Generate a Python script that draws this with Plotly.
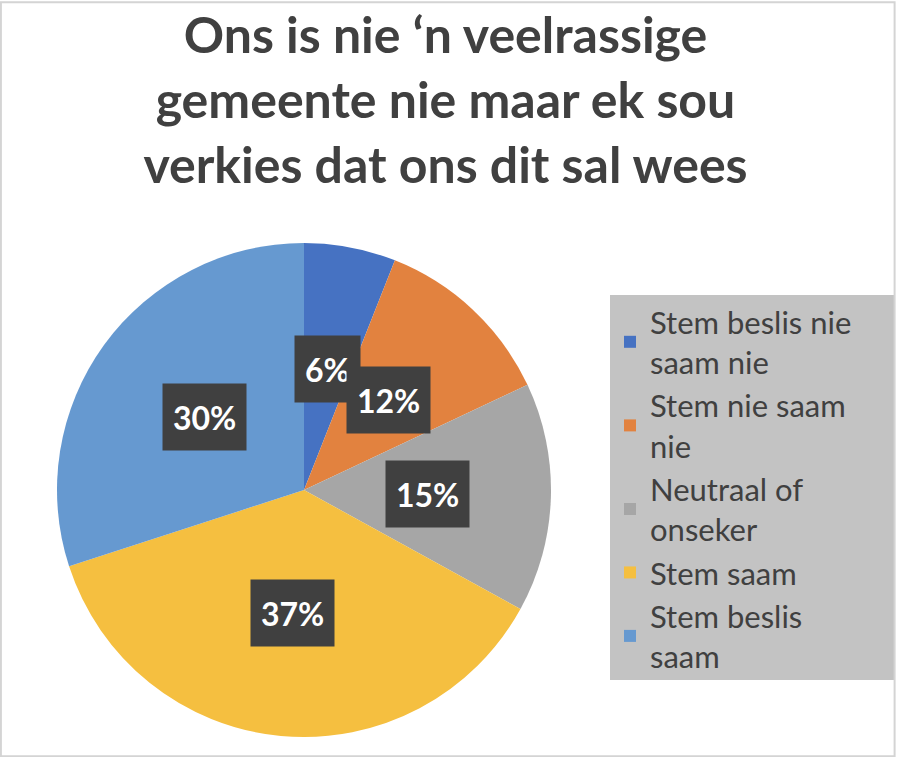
import math
import plotly.graph_objects as go

# data
labels = ["Stem beslis nie<br>saam nie", "Stem nie saam<br>nie", "Neutraal of<br>onseker",
          "Stem saam", "Stem beslis<br>saam"]
values = [6, 12, 15, 37, 30]
colors = ["#4672C2", "#E2823F", "#A6A6A6", "#F5BF40", "#6699D0"]

W, H = 900, 757
# pie placement in pixels (center and radius)
cx, cy, r = 304, 490, 247

fig = go.Figure(go.Pie(
    labels=labels,
    values=values,
    sort=False,
    direction="clockwise",
    rotation=0,
    marker=dict(colors=colors, line=dict(width=0)),
    textinfo="none",
    hoverinfo="label+percent",
    domain=dict(x=[(cx - r) / W, (cx + r) / W], y=[(H - cy - r) / H, (H - cy + r) / H]),
))

# percentage labels in dark boxes, at the middle of each slice
total = sum(values)
cum = 0
for v in values:
    mid = (cum + v / 2) / total
    cum += v
    ang = 2 * math.pi * mid
    px_ = cx + 0.5 * r * math.sin(ang)
    py_ = cy - 0.5 * r * math.cos(ang)
    fig.add_annotation(
        x=px_ / W, y=1 - py_ / H, xref="paper", yref="paper",
        xanchor="center", yanchor="middle",
        text="<b>%d%%</b>" % round(100 * v / total),
        showarrow=False, font=dict(color="white", size=32, family="Lato"),
        bgcolor="#404040", height=46, borderpad=10,
    )

# grey legend panel
lx0, lx1, ly0, ly1 = 610, 895, 295, 680
fig.add_shape(type="rect", xref="paper", yref="paper",
              x0=lx0 / W, x1=lx1 / W, y0=1 - ly1 / H, y1=1 - ly0 / H,
              fillcolor="#C3C3C3", line=dict(width=0), layer="below")

fig.update_layout(
    width=W, height=H,
    margin=dict(l=0, r=0, t=0, b=0),
    paper_bgcolor="white",
    font=dict(family="Lato", color="#404040"),
    title=dict(
        text="<b>Ons is nie ‘n veelrassige<br>gemeente nie maar ek sou<br>verkies dat ons dit sal wees</b>",
        x=0.495, xanchor="center", y=0.93, yanchor="top",
        font=dict(size=50, color="#404040", family="Lato"),
    ),
    legend=dict(
        x=lx0 / W, y=1 - ly0 / H, xanchor="left", yanchor="top",
        bgcolor="rgba(0,0,0,0)",
        font=dict(size=31, color="#404040"),
        valign="middle",
    ),
)
fig.add_shape(type="rect", xref="paper", yref="paper", x0=0.001, y0=0.001, x1=0.994, y1=0.997,
              line=dict(color="#D4D4D4", width=2))

fig.write_html("out.html", config={"displayModeBar": False},
               post_script="document.body.style.margin='0';")
